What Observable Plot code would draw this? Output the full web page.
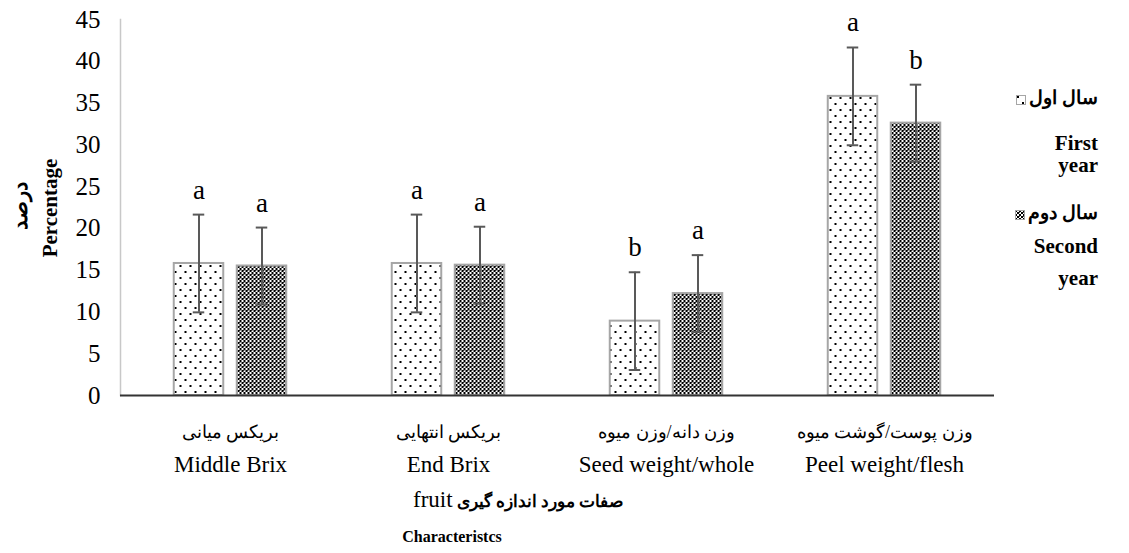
<!DOCTYPE html>
<html><head><meta charset="utf-8">
<script src="https://cdn.jsdelivr.net/npm/d3@7"></script>
<script src="https://cdn.jsdelivr.net/npm/@observablehq/plot@0.6"></script>
<style>
body{margin:0;background:#fff;}
#wrap{position:relative;width:1129px;height:553px;font-family:"Liberation Serif",serif;color:#000;}
#wrap svg text{font-family:"Liberation Serif",serif;}
.abs{position:absolute;white-space:nowrap;color:#000;line-height:1;font-family:"Liberation Serif",serif;}
.b{font-weight:bold;}
</style></head><body><div id="wrap"></div>
<script>
// ---- data ----
const categoriesEn = ["Middle Brix", "End Brix", "Seed weight/whole", "Peel weight/flesh"];
const categoriesFa = ["بریکس میانی", "بریکس انتهایی", "وزن دانه/وزن میوه", "وزن پوست/گوشت میوه"];
const firstYear = [15.8, 15.8, 8.9, 35.8];
const secondYear = [15.5, 15.6, 12.2, 32.6];
const firstErr = [5.85, 5.85, 5.85, 5.85];
const secondErr = [4.6, 4.6, 4.6, 4.6];
const firstLetters = ["a", "a", "b", "a"];
const secondLetters = ["a", "a", "a", "b"];
const yTicks = [0, 5, 10, 15, 20, 25, 30, 35, 40, 45];
const legendFa = ["سال اول", "سال دوم"];
const legendEn = [["First", "year"], ["Second", "year"]];

const rows1 = categoriesEn.map((c, i) => ({cat: c, v: firstYear[i], lo: firstYear[i] - firstErr[i], hi: firstYear[i] + firstErr[i], l: firstLetters[i]}));
const rows2 = categoriesEn.map((c, i) => ({cat: c, v: secondYear[i], lo: secondYear[i] - secondErr[i], hi: secondYear[i] + secondErr[i], l: secondLetters[i]}));
const labelRows = categoriesEn.map((c, i) => ({cat: c, fa: categoriesFa[i]}));

const defs = () => {
  const g = d3.create("svg:defs");
  const p1 = g.append("pattern").attr("id", "dots").attr("patternUnits", "userSpaceOnUse").attr("width", 10).attr("height", 12);
  p1.append("rect").attr("width", 10).attr("height", 12).attr("fill", "#fff");
  p1.append("rect").attr("x", 1).attr("y", 1).attr("width", 2).attr("height", 2).attr("fill", "#000");
  p1.append("rect").attr("x", 6).attr("y", 7).attr("width", 2).attr("height", 2).attr("fill", "#000");
  const p2 = g.append("pattern").attr("id", "checks").attr("patternUnits", "userSpaceOnUse").attr("width", 4).attr("height", 4);
  p2.append("rect").attr("width", 4).attr("height", 4).attr("fill", "#fff");
  p2.append("rect").attr("x", 0).attr("y", 0).attr("width", 2).attr("height", 2).attr("fill", "#000");
  p2.append("rect").attr("x", 2).attr("y", 2).attr("width", 2).attr("height", 2).attr("fill", "#000");
  p2.append("rect").attr("x", 0).attr("y", 2).attr("width", 1).attr("height", 1).attr("fill", "#555");
  return g.node();
};

const FF = "Liberation Serif";
const off = 31.5, inset = 84.25, capInset = 103.25;
const barStyle = {stroke: "#a6a6a6", strokeWidth: 2};
const errStyle = {stroke: "#595959", strokeWidth: 2};

const chart = Plot.plot({
  width: 1129, height: 553,
  marginLeft: 120, marginRight: 135, marginTop: 19, marginBottom: 158,
  style: "font-family: 'Liberation Serif', serif; background: #fff; color: #000;",
  x: {domain: categoriesEn, padding: 0, axis: null},
  y: {domain: [0, 45], axis: null},
  marks: [
    defs,
    Plot.frame({anchor: "left", stroke: "#c8c8c8", strokeWidth: 1.5}),
    Plot.axisY({ticks: yTicks, tickSize: 0, tickPadding: 20, fontSize: 25, fontFamily: FF, label: null}),
    Plot.barY(rows1, {x: "cat", y: "v", fill: "url(#dots)", dx: -off, insetLeft: inset, insetRight: inset, ...barStyle}),
    Plot.barY(rows2, {x: "cat", y: "v", fill: "url(#checks)", dx: off, insetLeft: inset, insetRight: inset, ...barStyle}),
    Plot.ruleX(rows1, {x: "cat", y1: "lo", y2: "hi", dx: -off, ...errStyle}),
    Plot.ruleX(rows2, {x: "cat", y1: "lo", y2: "hi", dx: off, ...errStyle}),
    Plot.tickY(rows1, {x: "cat", y: "hi", dx: -off, insetLeft: capInset, insetRight: capInset, ...errStyle}),
    Plot.tickY(rows1, {x: "cat", y: "lo", dx: -off, insetLeft: capInset, insetRight: capInset, ...errStyle}),
    Plot.tickY(rows2, {x: "cat", y: "hi", dx: off, insetLeft: capInset, insetRight: capInset, ...errStyle}),
    Plot.tickY(rows2, {x: "cat", y: "lo", dx: off, insetLeft: capInset, insetRight: capInset, ...errStyle}),
    Plot.text(rows1, {x: "cat", y: "hi", text: "l", dx: -off, dy: -16, lineAnchor: "bottom", fontSize: 27, fontFamily: FF}),
    Plot.text(rows2, {x: "cat", y: "hi", text: "l", dx: off, dy: -16, lineAnchor: "bottom", fontSize: 27, fontFamily: FF}),
    Plot.ruleY([0], {stroke: "#333", strokeWidth: 2}),
    Plot.text(labelRows, {x: "cat", text: "fa", frameAnchor: "bottom", dy: 42, fontSize: 18, fontFamily: FF}),
    Plot.text(labelRows, {x: "cat", text: "cat", frameAnchor: "bottom", dy: 76, fontSize: 23, fontFamily: FF})
  ]
});

const wrap = document.getElementById("wrap");
wrap.appendChild(chart);

function addText(html, css, cls) {
  const d = document.createElement("div");
  d.className = "abs " + (cls || "");
  d.innerHTML = html;
  Object.assign(d.style, css);
  wrap.appendChild(d);
  return d;
}
// y-axis titles
addText("درصد", {left: "20px", top: "206px", fontSize: "21px", transform: "translate(-50%,-50%) rotate(-90deg)"}, "b");
addText("Percentage", {left: "50px", top: "208px", fontSize: "21px", transform: "translate(-50%,-50%) rotate(-90deg)"}, "b");
// x-axis titles
addText('<span style="font-size:23px;font-weight:normal">fruit</span> <span dir="rtl" style="font-size:17px">صفات مورد اندازه گیری</span>', {left: "413px", top: "488px"}, "b");
addText("Characteristcs", {left: "452px", top: "537px", fontSize: "16px", transform: "translate(-50%,-50%)"}, "b");
// legend
const swFill = ["url(#dots)", "url(#checks)"];
const legTop = [88, 203];
const legEnTops = [[133, 155], [236, 268]];
legendFa.forEach((t, i) => {
  addText(`<svg width="10" height="10" style="vertical-align:middle;margin-right:3px"><rect x="0.5" y="0.5" width="9" height="9" fill="${swFill[i]}" stroke="#a6a6a6"/></svg><span dir="rtl">${t}</span>`,
    {right: "31px", top: legTop[i] + "px", fontSize: "19px"}, "b");
  legendEn[i].forEach((w, j) => {
    addText(w, {right: "31px", top: legEnTops[i][j] + "px", fontSize: "21px"}, "b");
  });
});
</script></body></html>
